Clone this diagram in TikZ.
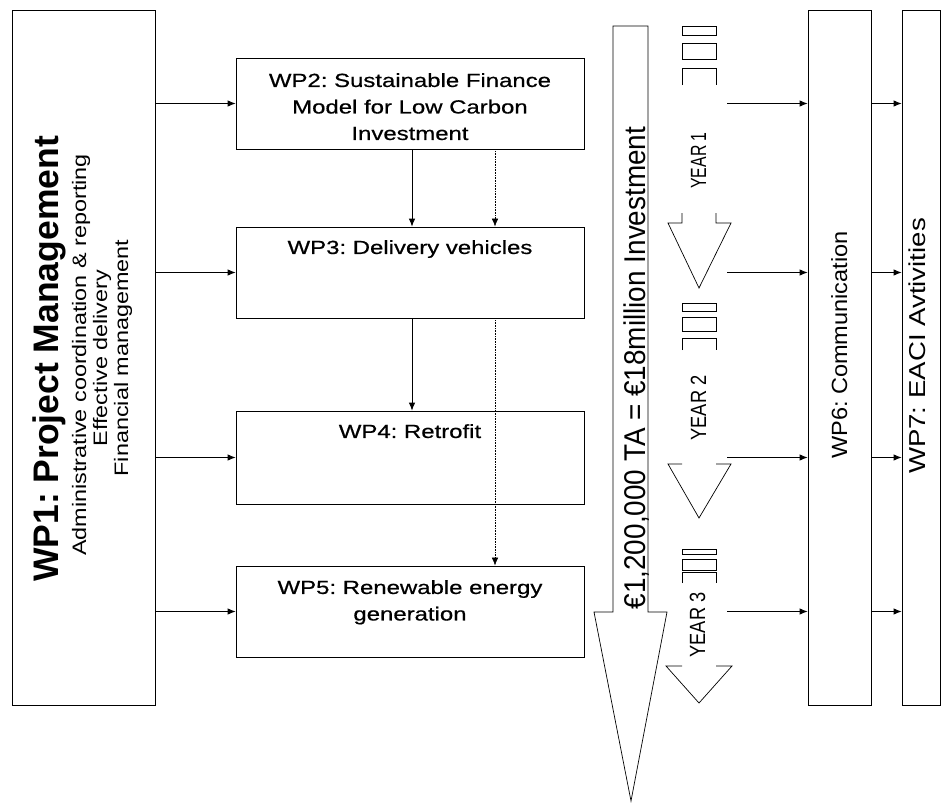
\documentclass[tikz,border=0pt]{standalone}
\usepackage{fontspec}
\usepackage{graphicx}
\setmainfont{Liberation Sans}
\newfontfamily\widesans[FakeStretch=1.26,FakeBold=0.6]{Liberation Sans}
\newfontfamily\subsans[FakeStretch=1.2]{Liberation Sans}
\usetikzlibrary{arrows.meta}
\frenchspacing
\begin{document}
\begin{tikzpicture}[x=1pt,y=-1pt,
  box/.style={draw, line width=0.8pt, inner sep=0pt, rectangle},
  conn/.style={-{Latex[length=8pt,width=6.5pt]}, line width=0.8pt},
  dotconn/.style={-{Latex[length=8pt,width=6.5pt]}, line width=0.6pt, densely dotted},
  outl/.style={line width=0.7pt},
  htext/.style={font=\widesans\fontsize{19}{26.5}\selectfont, align=center, inner sep=0pt, anchor=north},
  rtext/.style={rotate=90, anchor=base, inner sep=0pt},
  subt/.style={rtext, font=\subsans\fontsize{19.5}{22}\selectfont}
]
\useasboundingbox (0,0) rectangle (942,803);

% boxes
\node[box, minimum width=143pt, minimum height=695pt] (wp1) at (83.5,357.5) {};
\node[box, minimum width=348pt, minimum height=91pt] (wp2) at (410,103.5) {};
\node[box, minimum width=348pt, minimum height=91pt] (wp3) at (410,272.5) {};
\node[box, minimum width=348pt, minimum height=93pt] (wp4) at (410,457.5) {};
\node[box, minimum width=348pt, minimum height=91pt] (wp5) at (410,611.5) {};
\node[box, minimum width=63pt, minimum height=695pt] (wp6) at (839.5,357.5) {};
\node[box, minimum width=38pt, minimum height=695pt] (wp7) at (921,357.5) {};

% WP texts
\node[htext] (t2) at (410,73) {WP2: Sustainable Finance\\Model for Low Carbon\\Investment};
\node[htext] (t3) at (410,240) {WP3: Delivery vehicles};
\node[htext] (t4) at (410,424) {WP4: Retrofit};
\node[htext] (t5) at (410,580) {WP5: Renewable energy\\generation};

\node[rtext, font=\fontsize{35.5}{40}\selectfont\bfseries] (t1a) at (58,359) {WP1: Project Management};
\node[subt] (t1b) at (86,355) {Administrative coordination \& reporting};
\node[subt] (t1c) at (107,358) {Effective delivery};
\node[subt] (t1d) at (128,358) {Financial management};

\node[rtext, font=\fontsize{22}{24}\selectfont] (t6) at (847,345) {\scalebox{1.07}[1]{WP6: Communication}};
\node[rtext, font=\fontsize{23}{26}\selectfont] (t7) at (925,346) {\scalebox{1.2}[1]{WP7: EACI Avtivities}};

% big investment arrow
\draw[outl] (613,26) -- (648,26) -- (648,612) -- (667,612) -- (631,801) -- (594,612) -- (613,612) -- cycle;
\node[rtext, font=\fontsize{30}{34}\selectfont] (tinv) at (645,368) {\scalebox{0.93}[1]{€1,200,000 TA = €18million Investment}};

% year arrows
% year 1
\draw[outl] (682,26) rectangle (716,35);
\draw[outl] (682,43) rectangle (716,59);
\draw[outl] (682,85) -- (682,68) -- (716,68) -- (716,85);
\draw[outl] (682,213) -- (682,223) -- (668,223) -- (699,288) -- (731,223) -- (716,223) -- (716,213);
\node[rtext, font=\fontsize{22}{24}\selectfont] (y1) at (706,160.5) {\scalebox{0.72}[1]{YEAR 1}};
% year 2
\draw[outl] (682,303) rectangle (716,311);
\draw[outl] (682,317) rectangle (716,331);
\draw[outl] (682,350) -- (682,338) -- (716,338) -- (716,350);
\draw[outl] (682,464) -- (668,464) -- (699,518) -- (731,464) -- (716,464);
\node[rtext, font=\fontsize{22}{24}\selectfont] (y2) at (706,408) {\scalebox{0.83}[1]{YEAR 2}};
% year 3
\draw[outl] (682,549) rectangle (716,554);
\draw[outl] (682,559) rectangle (716,570);
\draw[outl] (682,583) -- (682,572) -- (716,572) -- (716,583);
\draw[outl] (682,666) -- (666,666) -- (699,703) -- (732,666) -- (716,666);
\node[rtext, font=\fontsize{22}{24}\selectfont] (y3) at (705,625) {\scalebox{0.83}[1]{YEAR 3}};

% connectors WP1 -> WPx
\foreach \n in {wp2,wp3,wp4,wp5}{
  \draw[conn] (wp1.east |- \n.west) -- (\n.west);
}
% vertical connectors
\coordinate (sx) at (412,0);
\coordinate (dx) at (495,0);
\draw[conn] (wp2.south -| sx) -- (wp3.north -| sx);
\draw[conn] (wp3.south -| sx) -- (wp4.north -| sx);
\draw[dotconn] (wp2.south -| dx) -- (wp3.north -| dx);
\draw[dotconn] (wp3.south -| dx) -- (wp5.north -| dx);

% right connectors
\foreach \yy/\k in {103.5/1,272.5/2,457.5/3,611.5/4}{
  \coordinate (r\k) at (727,\yy);
  \draw[conn] (r\k) -- (wp6.west |- r\k);
  \draw[conn] (wp6.east |- r\k) -- (wp7.west |- r\k);
}
\end{tikzpicture}
\end{document}
